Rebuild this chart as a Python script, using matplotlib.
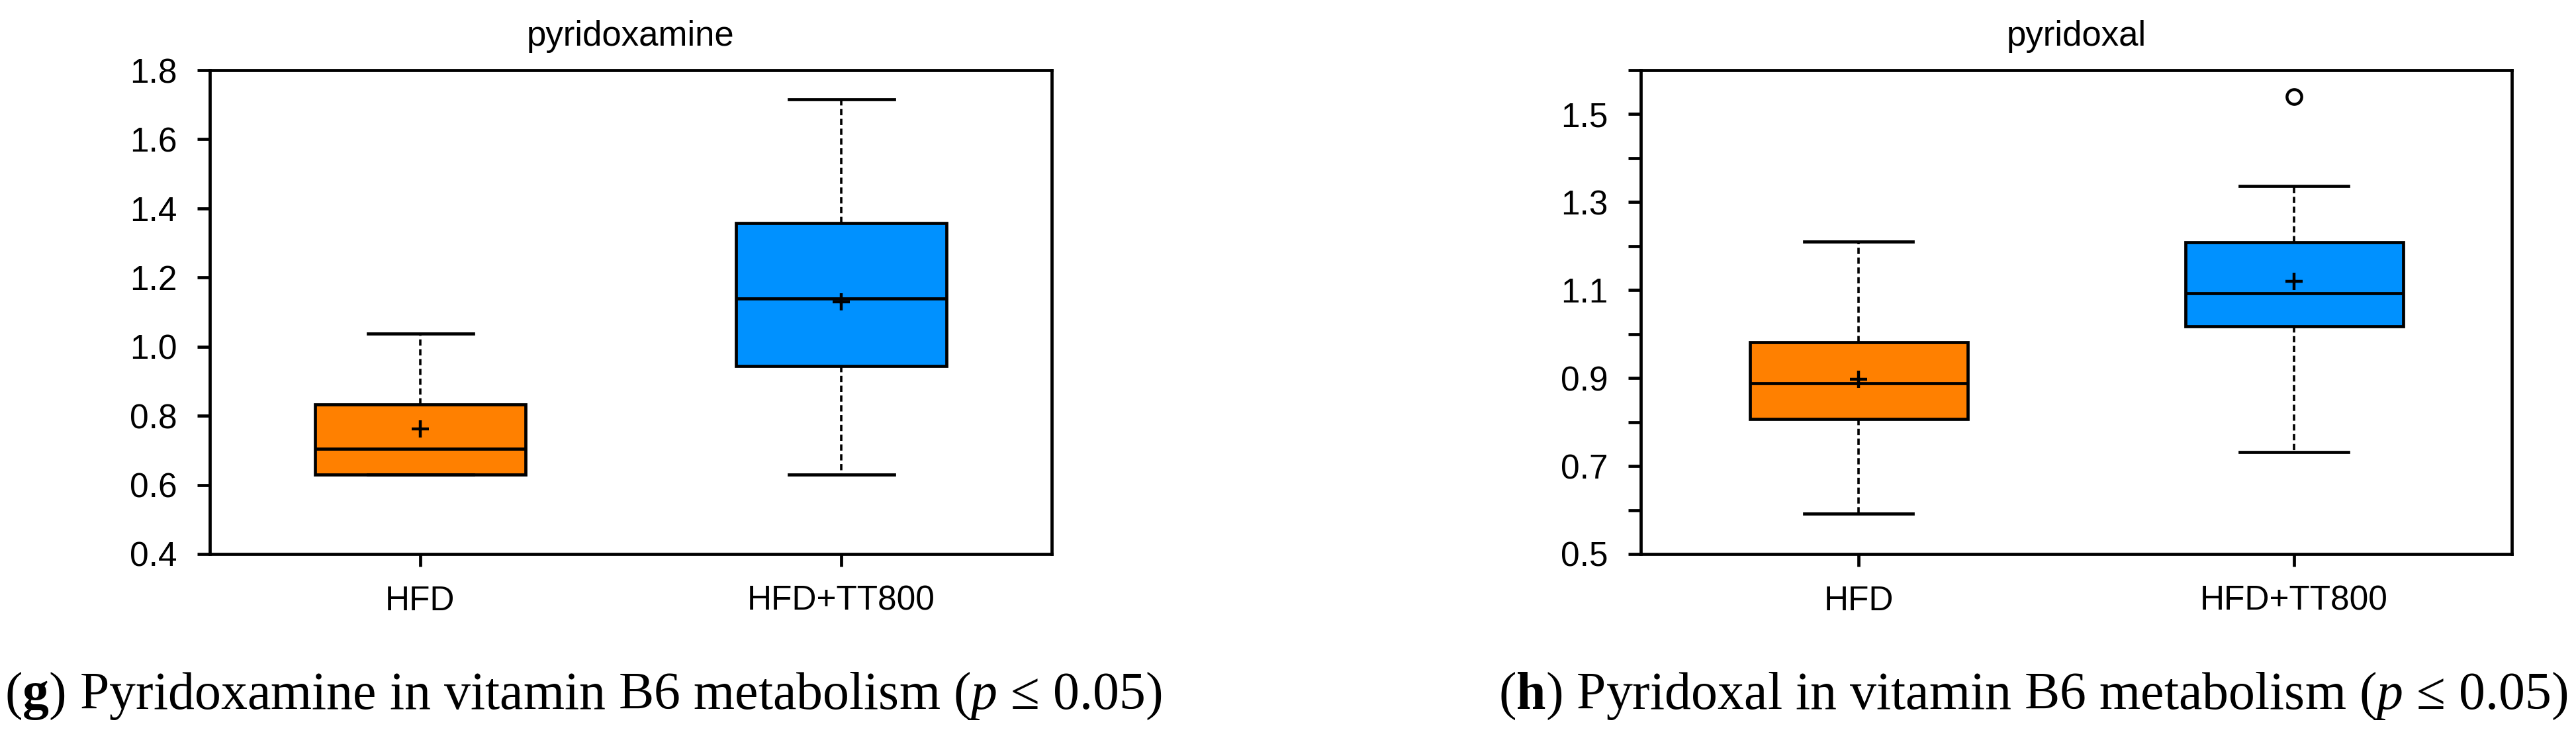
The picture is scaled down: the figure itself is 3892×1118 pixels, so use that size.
import matplotlib
matplotlib.use("Agg")
from matplotlib import pyplot as plt

## data (box stats per group)
groups = ["HFD", "HFD+TT800"]
colors = ["#FF8000", "#0091FF"]

# pyridoxamine
pm_low = [0.630, 0.630]
pm_q1 = [0.630, 0.943]
pm_med = [0.704, 1.139]
pm_q3 = [0.832, 1.357]
pm_high = [1.037, 1.715]
pm_mean = [0.762, 1.129]
pm_fliers = [[], []]

# pyridoxal
pl_low = [0.592, 0.732]
pl_q1 = [0.807, 1.017]
pl_med = [0.888, 1.093]
pl_q3 = [0.982, 1.209]
pl_high = [1.210, 1.337]
pl_mean = [0.898, 1.120]
pl_fliers = [[], [1.540]]

captions = [
    r"($\mathbf{g}$) Pyridoxamine in vitamin B6 metabolism ($\it{p}$ ≤ 0.05)",
    r"($\mathbf{h}$) Pyridoxal in vitamin B6 metabolism ($\it{p}$ ≤ 0.05)",
]

plt.rcParams["font.family"] = ["Liberation Sans", "DejaVu Sans"]
plt.rcParams["mathtext.fontset"] = "custom"
plt.rcParams["mathtext.rm"] = "Liberation Serif"
plt.rcParams["mathtext.it"] = "Liberation Serif:italic"
plt.rcParams["mathtext.bf"] = "Liberation Serif:bold"

W, H = 3892, 1118
fig = plt.figure(figsize=(W / 100, H / 100), dpi=100)


def make_stats(low, q1, med, q3, high, mean, fliers):
    out = []
    for i in range(len(low)):
        out.append(dict(whislo=low[i], q1=q1[i], med=med[i], q3=q3[i],
                        whishi=high[i], mean=mean[i], fliers=fliers[i]))
    return out


def draw_panel(ax, stats, title, ylim, yticks, ylabels):
    lw = 3.4
    bp = ax.bxp(stats, positions=[1, 2], widths=0.5, patch_artist=True,
                showmeans=True, showfliers=True,
                boxprops=dict(linewidth=lw, edgecolor="black"),
                medianprops=dict(color="black", linewidth=lw),
                whiskerprops=dict(color="black", linewidth=2.6,
                                  linestyle=(0, (2.6, 1.5))),
                capprops=dict(color="black", linewidth=lw),
                capwidths=0.25,
                meanprops=dict(marker="+", markersize=19, markeredgewidth=3.2,
                               markeredgecolor="black"),
                flierprops=dict(marker="o", markersize=16, markeredgewidth=3.2,
                                markerfacecolor="none", markeredgecolor="black"))
    for patch, c in zip(bp["boxes"], colors):
        patch.set_facecolor(c)
    ax.set_xlim(0.5, 2.5)
    ax.set_ylim(*ylim)
    ax.set_xticks([1, 2])
    ax.set_xticklabels(groups)
    ax.set_yticks(yticks)
    ax.set_yticklabels(ylabels)
    ax.tick_params(axis="both", labelsize=37, width=lw, length=13.5, color="black")
    ax.tick_params(axis="y", pad=22)
    ax.tick_params(axis="x", pad=20)
    for s in ax.spines.values():
        s.set_linewidth(lw)
    ax.set_title(title, fontsize=38, pad=27)


# left panel: pyridoxamine
ax1 = fig.add_axes([317 / W, 1 - 837 / H, (1589 - 317) / W, (837 - 106) / H])
yt1 = [0.4, 0.6, 0.8, 1.0, 1.2, 1.4, 1.6, 1.8]
draw_panel(ax1, make_stats(pm_low, pm_q1, pm_med, pm_q3, pm_high, pm_mean, pm_fliers),
           "pyridoxamine", (0.4, 1.8), yt1, [f"{v:.1f}" for v in yt1])

# right panel: pyridoxal
ax2 = fig.add_axes([2479 / W, 1 - 837 / H, (3795 - 2479) / W, (837 - 106) / H])
yt2 = [0.5, 0.6, 0.7, 0.8, 0.9, 1.0, 1.1, 1.2, 1.3, 1.4, 1.5, 1.6]
yl2 = [f"{v:.1f}" if i % 2 == 0 and v < 1.55 else "" for i, v in enumerate(yt2)]
draw_panel(ax2, make_stats(pl_low, pl_q1, pl_med, pl_q3, pl_high, pl_mean, pl_fliers),
           "pyridoxal", (0.5, 1.6), yt2, yl2)

# captions under the panels
fig.text(7 / W, 47 / H, captions[0], fontsize=57.5, family="Liberation Serif",
         ha="left", va="baseline")
fig.text(2264 / W, 47 / H, captions[1], fontsize=57.5, family="Liberation Serif",
         ha="left", va="baseline")

fig.savefig("out.png", dpi=100, facecolor="white")
